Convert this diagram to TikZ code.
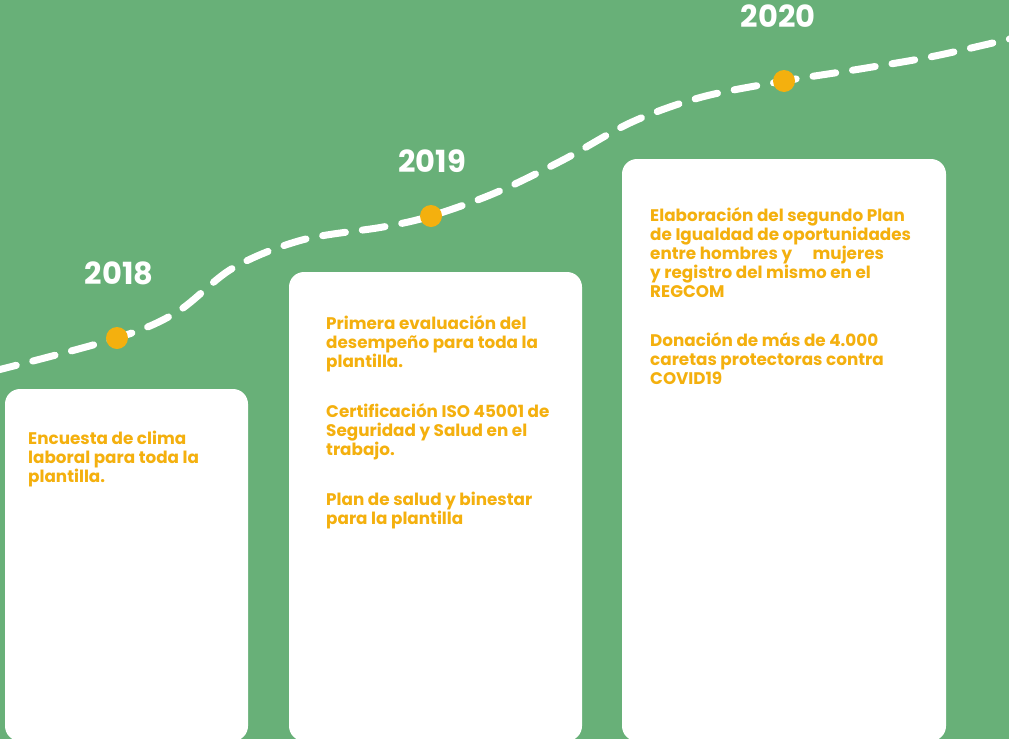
\documentclass[tikz,border=0pt]{standalone}
\usepackage{fontspec}
\setmainfont{Poppins}
\definecolor{bggreen}{RGB}{104,176,120}
\definecolor{amber}{RGB}{244,176,14}
\tikzset{
  card/.style={fill=white, rounded corners=15pt},
  itemtext/.style={anchor=base west, align=left, inner sep=0pt, text=amber,
    font=\fontsize{16.8}{19}\selectfont\bfseries},
  yeartext/.style={anchor=base, inner sep=0pt, text=white,
    font=\fontsize{30.5}{32}\selectfont\bfseries},
  dot/.style={circle, fill=amber, inner sep=0pt, minimum size=22pt},
  trail/.style={draw=white, line width=7pt, line cap=round, dash pattern=on 23pt off 17pt}
}
\begin{document}
\begin{tikzpicture}[x=1pt, y=-1pt]
\useasboundingbox[fill=bggreen] (0,0) rectangle (1009,739);
\clip (0,0) rectangle (1009,739);
% cards
\path[card] (5,389) rectangle (248,741);
\path[card] (289,272) rectangle (582,741);
\path[card] (622,159) rectangle (946,741);
% timeline points
\coordinate (p18) at (117,338);
\coordinate (p19) at (431,216);
\coordinate (p20) at (784,81);
\draw[trail] plot[smooth, tension=0.55] coordinates {(-6,371) (p18) (177,312) (233,268) (302,240) (383,227) (p19) (495,193) (563,160) (632,122) (702,97) (p20) (860,69) (935,56) (1018,37)};
\node[dot] (d18) at (p18) {};
\node[dot] (d19) at (p19) {};
\node[dot] (d20) at (p20) {};
% years
\node[yeartext] (y18) at (119,284) {2018};
\node[yeartext] (y19) at (432,172) {2019};
\node[yeartext] (y20) at (778,27) {2020};
% texts (anchored at the baseline of their last line)
\node[itemtext] (t1) at (28,482) {Encuesta de clima\\laboral para toda la\\plantilla.};
\node[itemtext] (t2a) at (326,367) {Primera evaluación del\\desempeño para toda la\\plantilla.};
\node[itemtext] (t2b) at (326,455) {Certificación ISO 45001 de\\Seguridad y Salud en el\\trabajo.};
\node[itemtext] (t2c) at (326,524) {Plan de salud y binestar\\para la plantilla};
\node[itemtext] (t3a) at (650,297) {Elaboración del segundo Plan\\de Igualdad de oportunidades\\entre hombres y\hspace{17pt} mujeres\\y registro del mismo en el\\REGCOM};
\node[itemtext] (t3b) at (650,384) {Donación de más de 4.000\\caretas protectoras contra\\COVID19};
\end{tikzpicture}
\end{document}
